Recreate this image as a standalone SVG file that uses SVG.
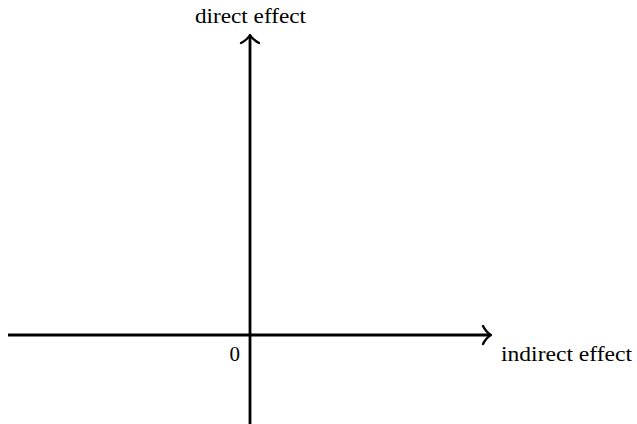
<svg xmlns="http://www.w3.org/2000/svg" width="637" height="424" viewBox="0 0 637 424">
<style>
.ax{stroke:#000;stroke-width:2.8;fill:none}
.hd{stroke:#000;stroke-width:2.4;fill:none;stroke-linecap:round;stroke-linejoin:round}
text{font-family:"Liberation Serif","DejaVu Serif",serif;font-size:21px;fill:#000}
</style>
<rect width="637" height="424" fill="#fff"/>
<g id="connectors">
<line class="ax" x1="8" y1="335" x2="490" y2="335"/>
<path class="hd" d="M483,326 Q486,332 491,335 Q486,338 483,344"/>
<line class="ax" x1="250" y1="424" x2="250" y2="36"/>
<path class="hd" d="M241,43 Q247,40 250,35 Q253,40 259,43"/>
</g>
<g id="labels">
<text x="195" y="23" textLength="111" lengthAdjust="spacingAndGlyphs">direct effect</text>
<text x="501" y="361" textLength="131" lengthAdjust="spacingAndGlyphs">indirect effect</text>
<text x="240" y="361" text-anchor="end">0</text>
</g>
</svg>
